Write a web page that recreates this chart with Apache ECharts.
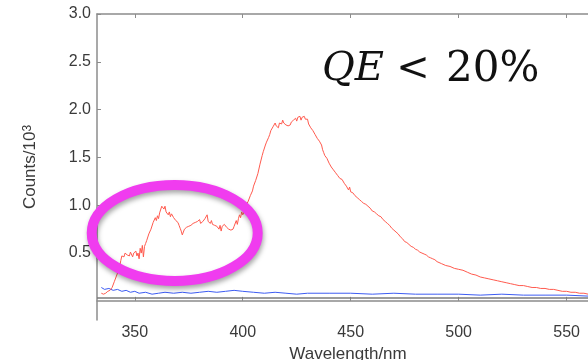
<!DOCTYPE html>
<html>
<head>
<meta charset="utf-8">
<script src="https://cdn.jsdelivr.net/npm/echarts@6/dist/echarts.min.js"></script>
<style>
  html, body { margin: 0; padding: 0; background: #fff; }
  #chart { width: 588px; height: 360px; }
</style>
</head>
<body>
<div id="chart"></div>
<script>
// emission spectrum (red)
const redWl = [
  334.5, 335.5, 336.5, 337.5, 338.5, 339.5, 340.5, 341.5, 342.5, 343, 343.5, 344, 344.5, 345, 345.5, 346, 346.5, 347, 347.5, 348,
  348.5, 349, 349.5, 350, 350.5, 351, 351.5, 352, 352.5, 353, 353.5, 354, 354.5, 355, 355.5, 356, 356.5, 357, 357.5, 358,
  358.5, 359, 359.5, 360, 360.5, 361, 361.5, 362, 362.5, 363, 363.5, 364, 364.5, 365, 365.5, 366, 366.5, 367, 367.5, 368,
  368.5, 369, 369.5, 370, 370.5, 371, 371.5, 372, 372.5, 373, 373.5, 374, 374.5, 375, 375.5, 376, 376.5, 377, 377.5, 378,
  378.5, 379, 379.5, 380, 380.5, 381, 381.5, 382, 382.5, 383, 383.5, 384, 384.5, 385, 385.5, 386, 386.5, 387, 387.5, 388,
  388.5, 389, 389.5, 390, 390.5, 391, 391.5, 392, 392.5, 393, 393.5, 394, 394.5, 395, 395.5, 396, 396.5, 397, 397.5, 398,
  398.5, 399, 399.5, 400, 401, 401.5, 402, 402.5, 403.5, 404.5, 405, 406, 407, 408, 408.5, 409, 409.5, 410, 410.5, 411,
  411.5, 412, 412.5, 413, 413.5, 414, 414.5, 415, 415.5, 416, 416.5, 417, 417.5, 418, 418.5, 419, 419.5, 420, 420.5, 421,
  421.5, 422, 422.5, 423, 423.5, 424, 424.5, 425, 425.5, 426, 426.5, 427, 427.5, 428, 428.5, 429, 429.5, 430, 430.5, 431,
  431.5, 432, 432.5, 433, 433.5, 434, 434.5, 435, 435.5, 436, 436.5, 437, 437.5, 438, 438.5, 439, 439.5, 440, 440.5, 441,
  442, 443, 444, 445, 446, 446.5, 447, 447.5, 448, 448.5, 449, 449.5, 450, 450.5, 451, 452, 453, 454, 455, 456,
  457, 458, 459, 460, 461, 462, 463, 464, 465, 466, 467, 468, 469, 470, 471, 472, 473, 474, 475, 476,
  477, 478, 479, 480, 481, 482, 483, 484, 485, 486, 487, 488, 489, 490, 492, 494, 496, 498, 500, 502,
  504, 506, 508, 510, 512, 514, 516, 518, 520, 522, 524, 526, 528, 530, 532, 534, 536, 538, 540, 542,
  544, 546, 548, 550, 552, 554, 556, 558, 560, 562, 565
];
const redCounts = [
  0.08, 0.07, 0.08, 0.10, 0.11, 0.14, 0.20, 0.26, 0.32, 0.36, 0.42, 0.47, 0.49, 0.46, 0.50, 0.52, 0.48, 0.50, 0.47, 0.51,
  0.49, 0.46, 0.50, 0.48, 0.52, 0.47, 0.50, 0.44, 0.55, 0.50, 0.58, 0.46, 0.57, 0.60, 0.63, 0.62, 0.70, 0.68, 0.75, 0.73,
  0.82, 0.80, 0.87, 0.84, 0.89, 0.86, 0.92, 0.91, 0.99, 1.01, 0.96, 0.99, 0.93, 0.95, 0.90, 0.93, 0.88, 0.91, 0.92, 0.87,
  0.88, 0.84, 0.86, 0.82, 0.79, 0.76, 0.73, 0.69, 0.72, 0.75, 0.73, 0.77, 0.76, 0.78, 0.76, 0.79, 0.77, 0.81, 0.79, 0.82,
  0.80, 0.83, 0.81, 0.85, 0.81, 0.79, 0.83, 0.81, 0.86, 0.84, 0.90, 0.83, 0.85, 0.81, 0.84, 0.80, 0.82, 0.79, 0.81, 0.78,
  0.80, 0.75, 0.79, 0.73, 0.78, 0.77, 0.80, 0.78, 0.77, 0.79, 0.75, 0.77, 0.74, 0.76, 0.75, 0.78, 0.77, 0.84, 0.80, 0.86,
  0.90, 0.87, 0.93, 0.90, 0.95, 1.00, 0.98, 1.04, 1.10, 1.15, 1.20, 1.26, 1.33, 1.43, 1.42, 1.52, 1.56, 1.58, 1.63, 1.66,
  1.64, 1.71, 1.74, 1.78, 1.76, 1.82, 1.80, 1.86, 1.83, 1.85, 1.81, 1.86, 1.88, 1.85, 1.89, 1.86, 1.88, 1.84, 1.86, 1.83,
  1.85, 1.84, 1.87, 1.85, 1.89, 1.87, 1.91, 1.88, 1.92, 1.90, 1.93, 1.89, 1.92, 1.91, 1.93, 1.90, 1.88, 1.90, 1.85, 1.86,
  1.81, 1.82, 1.78, 1.77, 1.74, 1.75, 1.70, 1.71, 1.67, 1.65, 1.63, 1.58, 1.55, 1.52, 1.53, 1.49, 1.47, 1.44, 1.42, 1.40,
  1.37, 1.34, 1.31, 1.28, 1.27, 1.25, 1.23, 1.25, 1.20, 1.22, 1.16, 1.19, 1.14, 1.16, 1.13, 1.10, 1.08, 1.06, 1.04, 1.02,
  1.01, 0.99, 0.97, 0.94, 0.93, 0.91, 0.89, 0.88, 0.85, 0.83, 0.81, 0.79, 0.76, 0.74, 0.72, 0.70, 0.67, 0.65, 0.62, 0.61,
  0.59, 0.57, 0.56, 0.54, 0.53, 0.51, 0.50, 0.49, 0.48, 0.46, 0.45, 0.44, 0.43, 0.41, 0.39, 0.37, 0.36, 0.34, 0.33, 0.32,
  0.30, 0.28, 0.27, 0.25, 0.24, 0.23, 0.22, 0.21, 0.20, 0.19, 0.18, 0.17, 0.16, 0.16, 0.15, 0.14, 0.14, 0.13, 0.13, 0.12,
  0.12, 0.11, 0.10, 0.10, 0.09, 0.09, 0.08, 0.08, 0.07, 0.07, 0.07
];

// blank / reference (blue)
const blueWl = [
  334.5, 336, 338, 340, 342, 344, 346, 348, 350, 352, 355, 358, 361, 364, 368, 372, 376, 380, 384, 388,
  392, 396, 400, 405, 410, 415, 420, 425, 430, 440, 450, 460, 470, 480, 490, 500, 510, 520, 530, 540,
  550, 560, 565
];
const blueCounts = [
  0.14, 0.12, 0.13, 0.11, 0.12, 0.10, 0.11, 0.09, 0.10, 0.08, 0.09, 0.07, 0.08, 0.09, 0.08, 0.09, 0.08, 0.09, 0.10, 0.09,
  0.10, 0.11, 0.10, 0.09, 0.08, 0.09, 0.08, 0.07, 0.08, 0.08, 0.08, 0.07, 0.08, 0.07, 0.07, 0.07, 0.06, 0.07, 0.06, 0.06,
  0.06, 0.05, 0.05
];

// flat grey baseline
const greyWl = [332.5, 565];
const greyCounts = [0.03, 0.03];

const xTicks = [350, 400, 450, 500, 550];
const yTicks = [0.5, 1.0, 1.5, 2.0, 2.5, 3.0];

const zip = (a, b) => a.map((x, i) => [x, b[i]]);

const chart = echarts.init(document.getElementById('chart'), null, { renderer: 'canvas' });

const axisGrey = '#8c8c8c';
const labelColor = '#3a3a3a';
const font = 'Liberation Sans, Arial, sans-serif';

chart.setOption({
  animation: false,
  grid: { left: 97, right: -11, top: 14, bottom: 40, containLabel: false, outerBoundsMode: 'none' },
  xAxis: [
    {
      type: 'value',
      min: 332.5,
      max: 565,
      name: 'Wavelength/nm',
      nameLocation: 'middle',
      nameGap: 24,
      nameTextStyle: { color: labelColor, fontSize: 17, fontFamily: font },
      axisLine: { lineStyle: { color: axisGrey, width: 1.5 } },
      axisTick: { inside: true, length: 4, customValues: xTicks, lineStyle: { color: axisGrey } },
      axisLabel: { customValues: xTicks, color: labelColor, fontSize: 16, fontFamily: font, margin: 5 },
      splitLine: { show: false },
    },
    {
      type: 'value',
      position: 'top',
      min: 332.5,
      max: 565,
      axisLine: { lineStyle: { color: axisGrey, width: 1.5 } },
      axisTick: { inside: true, length: 4, customValues: xTicks, lineStyle: { color: axisGrey } },
      axisLabel: { show: false },
      splitLine: { show: false },
    },
  ],
  yAxis: {
    type: 'value',
    min: -0.2,
    max: 3.0,
    name: 'Counts/10{s|3}',
    nameLocation: 'middle',
    nameRotate: 90,
    nameGap: 58,
    nameTextStyle: {
      color: labelColor,
      fontSize: 17,
      fontFamily: font,
      rich: { s: { color: labelColor, fontSize: 12, fontFamily: font, verticalAlign: 'top' } },
    },
    axisLine: { show: true, lineStyle: { color: axisGrey, width: 1.5 } },
    axisTick: { show: true, inside: true, length: 4, customValues: yTicks, lineStyle: { color: axisGrey } },
    axisLabel: {
      customValues: yTicks,
      color: labelColor,
      fontSize: 16,
      fontFamily: font,
      margin: 6,
      formatter: (v) => v.toFixed(1),
    },
    splitLine: { show: false },
  },
  series: [
    {
      name: 'baseline',
      type: 'line',
      data: zip(greyWl, greyCounts),
      symbol: 'none',
      lineStyle: { color: '#7a7a7a', width: 1.5 },
    },
    {
      name: 'blank',
      type: 'line',
      data: zip(blueWl, blueCounts),
      symbol: 'none',
      lineStyle: { color: '#3d5cf2', width: 1 },
    },
    {
      name: 'sample',
      type: 'line',
      data: zip(redWl, redCounts),
      symbol: 'none',
      lineStyle: { color: '#ff5a4e', width: 1 },
    },
  ],
});

// highlight ring around the UV shoulder, centred in data space
const c = chart.convertToPixel({ gridIndex: 0 }, [368.5, 0.71]);

const mathFont = 'DejaVu Serif, Liberation Serif, serif';

chart.setOption({
  graphic: [
    {
      type: 'ellipse',
      shape: { cx: c[0], cy: c[1], rx: 83, ry: 48 },
      style: {
        fill: 'none',
        stroke: '#f03cef',
        lineWidth: 10,
        shadowBlur: 5,
        shadowColor: 'rgba(0,0,0,0.35)',
        shadowOffsetX: 1,
        shadowOffsetY: 3,
      },
      z: 100,
    },
    {
      type: 'text',
      z: 100,
      style: { x: 322, y: 70, text: 'QE', fontFamily: mathFont, fontStyle: 'italic', fontSize: 40, fill: '#111', verticalAlign: 'middle' },
    },
    {
      type: 'text',
      z: 100,
      style: { x: 413, y: 70, text: '<', fontFamily: mathFont, fontSize: 40, fill: '#111', align: 'center', verticalAlign: 'middle' },
    },
    {
      type: 'text',
      z: 100,
      style: { x: 446, y: 70, text: '20%', fontFamily: mathFont, fontSize: 42, fill: '#111', verticalAlign: 'middle' },
    },
  ],
});
</script>
</body>
</html>
